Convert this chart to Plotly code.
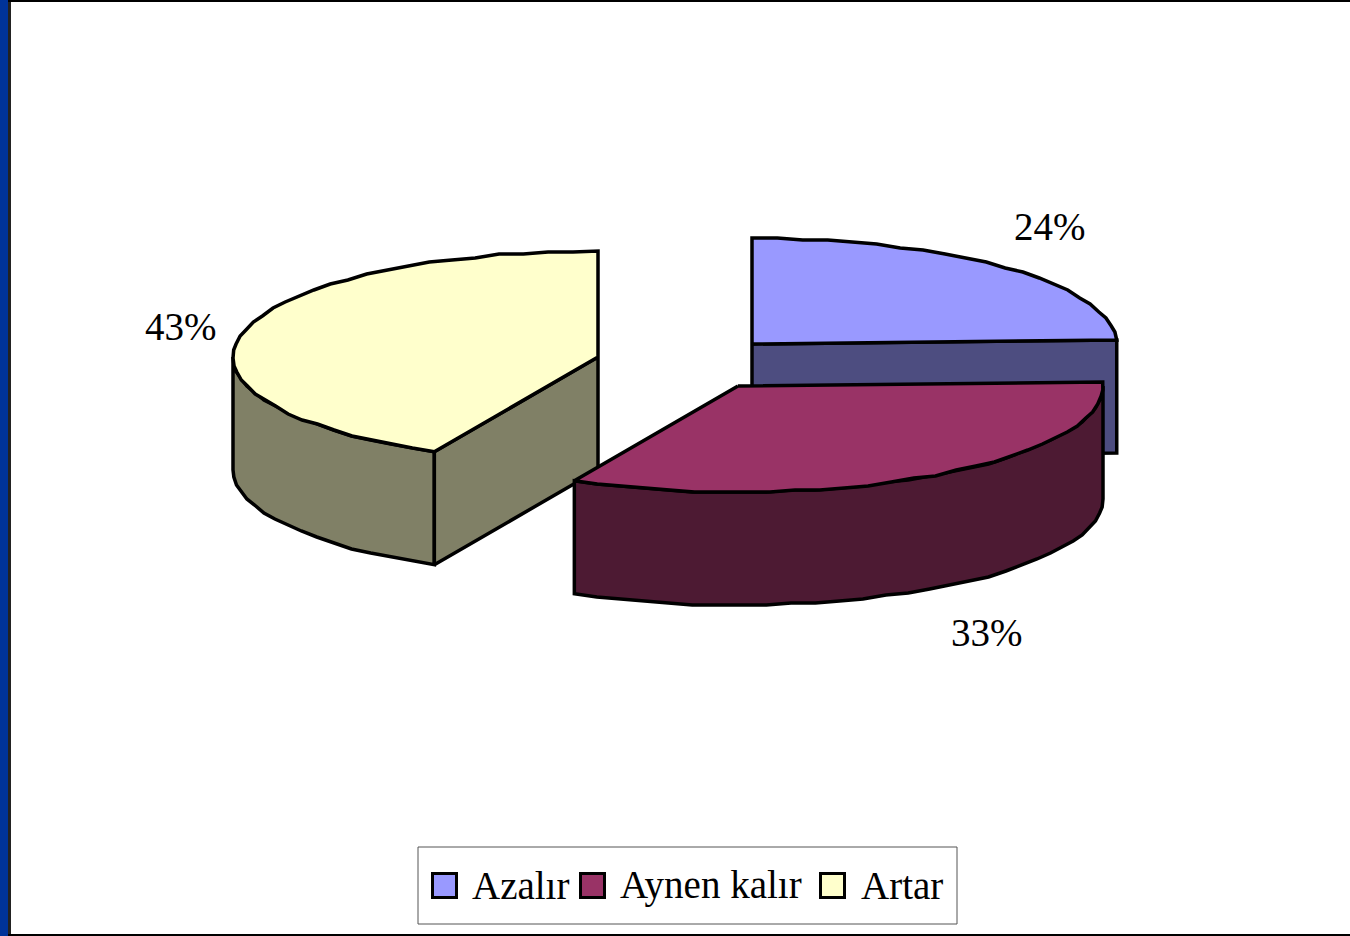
import numpy as np
import plotly.graph_objects as go

categories = ['Azalır', 'Aynen kalır', 'Artar']
values = [24.4, 33.0, 42.6]
top_colors = ['#9999FF', '#993366', '#FFFFCC']
side_colors = ['#4D4D80', '#4D1A33', '#808066']

# pie centres after explode, in screen px
centers = [(752, 344), (738, 386), (598, 357)]
rx, ry, depth = 365, 106, 113
grid_y = 2

legend_x = [444.5, 592.5, 832.5]
legend_text_x = [470, 618, 859]
label_pos = [(1050, 226), (987, 632), (181, 326)]


def arc(cx, cy, a0, a1):
    # angle is clockwise from 12 o'clock, same as the pie start
    a = np.radians(np.linspace(a0, a1, int(abs(a1 - a0) / 4) + 2))
    x = cx + rx * np.sin(a)
    y = cy - ry * np.cos(a)
    # the original has a stepped outline
    y[1:-1] = np.round(y[1:-1] / grid_y) * grid_y
    return x, y


def poly(fig, x, y, color):
    fig.add_trace(go.Scatter(x=list(x) + [x[0]], y=list(y) + [y[0]], mode='lines', fill='toself',
                             fillcolor=color, line=dict(color='black', width=3.5),
                             hoverinfo='skip', showlegend=False))


edges = np.cumsum([0] + values) * 3.6
fig = go.Figure()

for i in [2, 0, 1]:
    a0, a1 = edges[i], edges[i + 1]
    cx, cy = centers[i]
    # outer wall, only the part facing the viewer
    w0, w1 = max(a0, 90), min(a1, 270)
    if w1 > w0:
        x, y = arc(cx, cy, w0, w1)
        poly(fig, np.r_[x, x[::-1]], np.r_[y, y[::-1] + depth], side_colors[i])
    # cut faces that can be seen
    for a in (a0, a1):
        if (i == 0 and a == a1) or (i == 2 and a == a0):
            x, y = arc(cx, cy, a, a)
            poly(fig, [cx, x[0], x[0], cx], [cy, y[0], y[0] + depth, cy + depth], side_colors[i])
    x, y = arc(cx, cy, a0, a1)
    poly(fig, np.r_[cx, x], np.r_[cy, y], top_colors[i])

annotations = []
for v, (lx, ly) in zip(values, label_pos):
    annotations.append(dict(x=lx, y=ly, text=f'{round(v)}%', showarrow=False,
                            font=dict(family='Liberation Serif', size=39, color='black')))
for name, tx in zip(categories, legend_text_x):
    annotations.append(dict(x=tx, y=885, text=name, showarrow=False, xanchor='left',
                            font=dict(family='Liberation Serif', size=39, color='black')))

# legend frame + swatches
fig.add_trace(go.Scatter(x=[418, 957, 957, 418, 418], y=[847, 847, 924, 924, 847], mode='lines',
                         line=dict(color='#555555', width=1), hoverinfo='skip', showlegend=False))
fig.add_trace(go.Scatter(x=legend_x, y=[885.5] * 3, mode='markers',
                         marker=dict(symbol='square', size=24, color=top_colors,
                                     line=dict(color='black', width=3)),
                         hoverinfo='skip', showlegend=False))

fig.update_layout(
    width=1350, height=936, margin=dict(l=0, r=0, t=0, b=0),
    paper_bgcolor='white', plot_bgcolor='white', showlegend=False,
    annotations=annotations,
    xaxis=dict(range=[0, 1350], visible=False, fixedrange=True),
    yaxis=dict(range=[936, 0], visible=False, fixedrange=True),
    shapes=[
        dict(type='rect', xref='paper', yref='paper', x0=0, x1=8 / 1350, y0=0, y1=1,
             fillcolor='#003399', line_width=0),
        dict(type='rect', xref='paper', yref='paper', x0=8 / 1350, x1=11 / 1350, y0=0, y1=1,
             fillcolor='#222222', line_width=0),
        dict(type='rect', xref='paper', yref='paper', x0=8 / 1350, x1=1, y0=1 - 2 / 936, y1=1,
             fillcolor='black', line_width=0),
        dict(type='rect', xref='paper', yref='paper', x0=8 / 1350, x1=1, y0=0, y1=2 / 936,
             fillcolor='black', line_width=0),
    ],
)
fig.write_html('out.html', config=dict(displayModeBar=False),
               post_script="document.body.style.margin='0';")
